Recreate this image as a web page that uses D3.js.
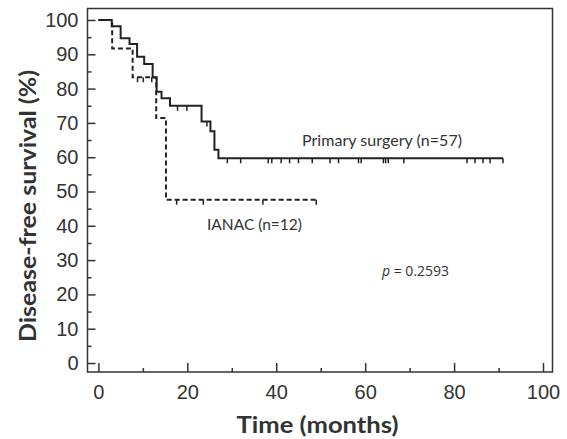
<!DOCTYPE html>
<html>
<head>
<meta charset="utf-8">
<title>Disease-free survival</title>
<script src="https://cdn.jsdelivr.net/npm/d3@7"></script>
<style>
  body { margin: 0; background: #fff; }
  .tick text { font-family: "Liberation Sans", Arial, sans-serif; }
</style>
</head>
<body>
<script>
// Kaplan-Meier steps (time in months, survival in %)
var surgeryTimes = [0, 3.0, 5.0, 7.0, 8.7, 10.3, 12.2, 13.1, 14.2, 16.1, 23.2, 25.2, 26.1, 27.0];
var surgerySurv  = [100, 98.2, 94.7, 93.0, 89.3, 87.2, 83.2, 79.1, 77.2, 75.0, 70.4, 67.6, 62.2, 59.7];
var surgeryEnd = 91;
var surgeryCensor = [17.8, 19.9, 24.4, 29, 32, 38.2, 39, 41.1, 43, 45, 48.1, 52.1, 54, 58.5, 59.1,
                     64.1, 64.6, 65.2, 68.7, 82.9, 84.7, 86.5, 88.1, 91];

var ianacTimes = [0, 3.1, 7.7, 13.0, 15.2];
var ianacSurv  = [100, 91.7, 83.3, 71.4, 47.6];
var ianacEnd = 49;
var ianacCensor = [8.8, 10.1, 12.0, 17.6, 23.6, 37.0, 49];

var xTicks = [0, 20, 40, 60, 80, 100];
var yTicks = [0, 10, 20, 30, 40, 50, 60, 70, 80, 90, 100];

var width = 567, height = 439;
var frame = {left: 87.5, right: 552.5, top: 8.5, bottom: 372};

var svg = d3.select("body").append("svg")
    .attr("width", width)
    .attr("height", height);

var x = d3.scaleLinear().domain([0, 100]).range([98.4, 543]);
var y = d3.scaleLinear().domain([0, 100]).range([363, 20]);

// frame
svg.append("rect")
    .attr("x", frame.left).attr("y", frame.top)
    .attr("width", frame.right - frame.left)
    .attr("height", frame.bottom - frame.top)
    .attr("fill", "none")
    .attr("stroke", "#333")
    .attr("stroke-width", 1.5);

// y axis, ticks point inward
svg.append("g")
    .attr("transform", "translate(" + frame.left + ",0)")
    .call(d3.axisLeft(y).tickValues(yTicks).tickSize(-8).tickPadding(9));
svg.append("g")
    .attr("transform", "translate(" + frame.left + ",0)")
    .call(d3.axisLeft(y).tickValues(d3.range(5, 100, 10)).tickSize(-4).tickFormat(""));

svg.append("g")
    .attr("transform", "translate(0," + frame.bottom + ")")
    .call(d3.axisBottom(x).tickValues(xTicks).tickSize(-9).tickPadding(13));
svg.append("g")
    .attr("transform", "translate(0," + frame.bottom + ")")
    .call(d3.axisBottom(x).tickValues(d3.range(10, 100, 20)).tickSize(-4).tickFormat(""));

svg.selectAll(".domain").remove();
svg.selectAll(".tick line").attr("stroke", "#333").attr("stroke-width", 1.5);
svg.selectAll(".tick text").attr("font-size", 20).attr("fill", "#333");

// step curves
function stepPoints(times, surv, end) {
    var pts = times.map(function(t, i) { return [t, surv[i]]; });
    pts.push([end, surv[surv.length - 1]]);
    return pts;
}
function survAt(times, surv, t) {
    var i = d3.bisectRight(times, t) - 1;
    return surv[Math.max(i, 0)];
}

var line = d3.line()
    .x(function(d) { return x(d[0]); })
    .y(function(d) { return y(d[1]); })
    .curve(d3.curveStepAfter);

var groups = [
    {times: surgeryTimes, surv: surgerySurv, end: surgeryEnd, censor: surgeryCensor, dash: null},
    {times: ianacTimes, surv: ianacSurv, end: ianacEnd, censor: ianacCensor, dash: "5,3"}
];

groups.forEach(function(g) {
    svg.append("path")
        .attr("d", line(stepPoints(g.times, g.surv, g.end)))
        .attr("fill", "none")
        .attr("stroke", "#222")
        .attr("stroke-width", 2)
        .attr("stroke-dasharray", g.dash);

    svg.append("g").selectAll("line")
        .data(g.censor)
        .join("line")
        .attr("x1", function(d) { return x(d); })
        .attr("x2", function(d) { return x(d); })
        .attr("y1", function(d) { return y(survAt(g.times, g.surv, d)); })
        .attr("y2", function(d) { return y(survAt(g.times, g.surv, d)) + 5; })
        .attr("stroke", "#222")
        .attr("stroke-width", 1.5);
});

// annotations
var annoFont = "Lato, 'Open Sans', sans-serif";
svg.append("text")
    .attr("x", 302).attr("y", 146)
    .attr("font-family", annoFont).attr("font-size", 16).attr("fill", "#333")
    .attr("textLength", 160).attr("lengthAdjust", "spacing")
    .text("Primary surgery (n=57)");
svg.append("text")
    .attr("x", 207).attr("y", 230)
    .attr("font-family", annoFont).attr("font-size", 15.5).attr("fill", "#333")
    .attr("textLength", 95).attr("lengthAdjust", "spacing")
    .text("IANAC (n=12)");

var pText = svg.append("text")
    .attr("x", 382).attr("y", 276)
    .attr("font-family", "'Open Sans', sans-serif").attr("font-size", 14).attr("fill", "#333");
pText.append("tspan").attr("font-style", "italic").text("p");
pText.append("tspan").text(" = 0.2593");

// axis titles
var titleFont = "Lato, 'Open Sans', sans-serif";
svg.append("text")
    .attr("transform", "translate(36,206) rotate(-90)")
    .attr("text-anchor", "middle")
    .attr("font-family", titleFont).attr("font-weight", "bold")
    .attr("font-size", 22).attr("fill", "#333")
    .attr("textLength", 272).attr("lengthAdjust", "spacingAndGlyphs")
    .text("Disease-free survival (%)");
svg.append("text")
    .attr("x", 317.5).attr("y", 433)
    .attr("text-anchor", "middle")
    .attr("font-family", titleFont).attr("font-weight", "bold")
    .attr("font-size", 22).attr("fill", "#333")
    .attr("textLength", 162).attr("lengthAdjust", "spacingAndGlyphs")
    .text("Time (months)");
</script>
</body>
</html>
